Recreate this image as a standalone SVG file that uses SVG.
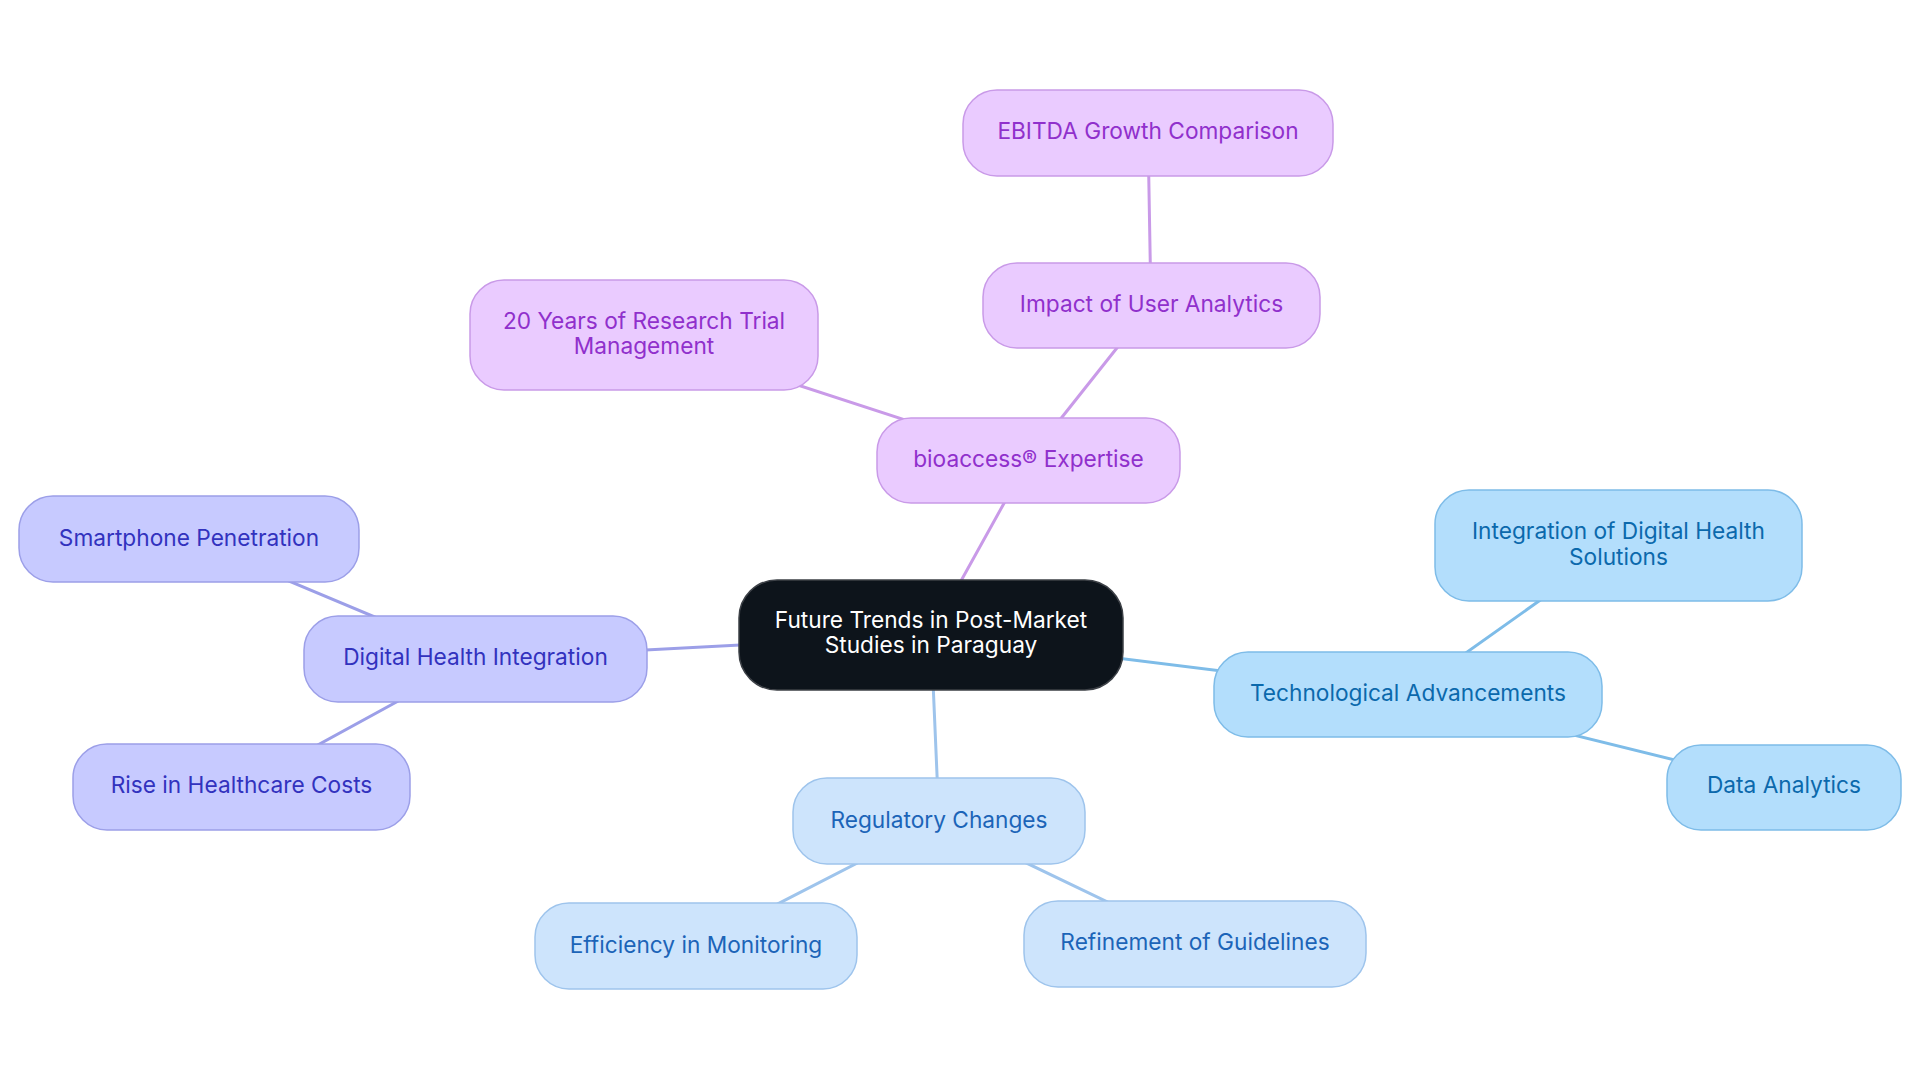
<svg xmlns="http://www.w3.org/2000/svg" width="1920" height="1083" viewBox="0 0 1920 1083">
<style>
  text { font-family: Inter, "Noto Sans", "Liberation Sans", sans-serif; font-size: 22.7px; text-anchor: middle; }
  .n rect { stroke-width: 1.5; }
  .c line { stroke-width: 3; stroke-linecap: round; }
  .pu rect { fill: #EACBFF; stroke: #C99AE8; }
  .pu text { fill: #9030CC; }
  .in rect { fill: #C7CAFF; stroke: #9C9FE8; }
  .in text { fill: #3232BE; }
  .rg rect { fill: #CDE4FC; stroke: #9EC4EC; }
  .rg text { fill: #1C64B8; }
  .tc rect { fill: #B3DEFC; stroke: #7EBCE8; }
  .tc text { fill: #0B69AC; }
  .lp { stroke: #C99AE8; }
  .li { stroke: #9C9FE8; }
  .lr { stroke: #9EC4EC; }
  .lt { stroke: #7EBCE8; }
</style>
<rect width="1920" height="1083" fill="#FFFFFF"/>
<g id="connectors" class="c">
  <line class="lp" x1="931" y1="635" x2="1028" y2="460"/>
  <line class="lp" x1="1028" y1="460" x2="1151" y2="305"/>
  <line class="lp" x1="1151" y1="305" x2="1148" y2="133"/>
  <line class="lp" x1="1028" y1="460" x2="644" y2="335"/>
  <line class="li" x1="931" y1="635" x2="475" y2="659"/>
  <line class="li" x1="475" y1="659" x2="189" y2="539"/>
  <line class="li" x1="475" y1="659" x2="241" y2="787"/>
  <line class="lr" x1="931" y1="635" x2="939" y2="821"/>
  <line class="lr" x1="939" y1="821" x2="696" y2="946"/>
  <line class="lr" x1="939" y1="821" x2="1195" y2="944"/>
  <line class="lt" x1="931" y1="635" x2="1408" y2="694"/>
  <line class="lt" x1="1408" y1="694" x2="1618" y2="545"/>
  <line class="lt" x1="1408" y1="694" x2="1784" y2="787"/>
</g>
<g id="root" class="n">
  <rect x="739" y="580" width="384" height="110" rx="38" fill="#0D141B" stroke="#3C4046"/>
  <text x="931" y="628" fill="#FFFFFF">Future Trends in Post-Market</text>
  <text x="931" y="653" fill="#FFFFFF">Studies in Paraguay</text>
</g>
<g id="bioaccess" class="n pu">
  <rect x="877" y="418" width="303" height="85" rx="34"/>
  <text x="1028.5" y="467">bioaccess® Expertise</text>
</g>
<g id="impact" class="n pu">
  <rect x="983" y="263" width="337" height="85" rx="34"/>
  <text x="1151.5" y="312">Impact of User Analytics</text>
</g>
<g id="ebitda" class="n pu">
  <rect x="963" y="90" width="370" height="86" rx="34"/>
  <text x="1148" y="139">EBITDA Growth Comparison</text>
</g>
<g id="years" class="n pu">
  <rect x="470" y="280" width="348" height="110" rx="34"/>
  <text x="644" y="329">20 Years of Research Trial</text>
  <text x="644" y="354">Management</text>
</g>
<g id="digital" class="n in">
  <rect x="304" y="616" width="343" height="86" rx="34"/>
  <text x="475.5" y="665">Digital Health Integration</text>
</g>
<g id="smartphone" class="n in">
  <rect x="19" y="496" width="340" height="86" rx="34"/>
  <text x="189" y="546">Smartphone Penetration</text>
</g>
<g id="costs" class="n in">
  <rect x="73" y="744" width="337" height="86" rx="34"/>
  <text x="241.5" y="793">Rise in Healthcare Costs</text>
</g>
<g id="regulatory" class="n rg">
  <rect x="793" y="778" width="292" height="86" rx="34"/>
  <text x="939" y="828">Regulatory Changes</text>
</g>
<g id="efficiency" class="n rg">
  <rect x="535" y="903" width="322" height="86" rx="34"/>
  <text x="696" y="953">Efficiency in Monitoring</text>
</g>
<g id="refinement" class="n rg">
  <rect x="1024" y="901" width="342" height="86" rx="34"/>
  <text x="1195" y="950">Refinement of Guidelines</text>
</g>
<g id="tech" class="n tc">
  <rect x="1214" y="652" width="388" height="85" rx="34"/>
  <text x="1408" y="701">Technological Advancements</text>
</g>
<g id="integration" class="n tc">
  <rect x="1435" y="490" width="367" height="111" rx="34"/>
  <text x="1618.5" y="539">Integration of Digital Health</text>
  <text x="1618.5" y="565">Solutions</text>
</g>
<g id="data" class="n tc">
  <rect x="1667" y="745" width="234" height="85" rx="34"/>
  <text x="1784" y="793">Data Analytics</text>
</g>
</svg>
